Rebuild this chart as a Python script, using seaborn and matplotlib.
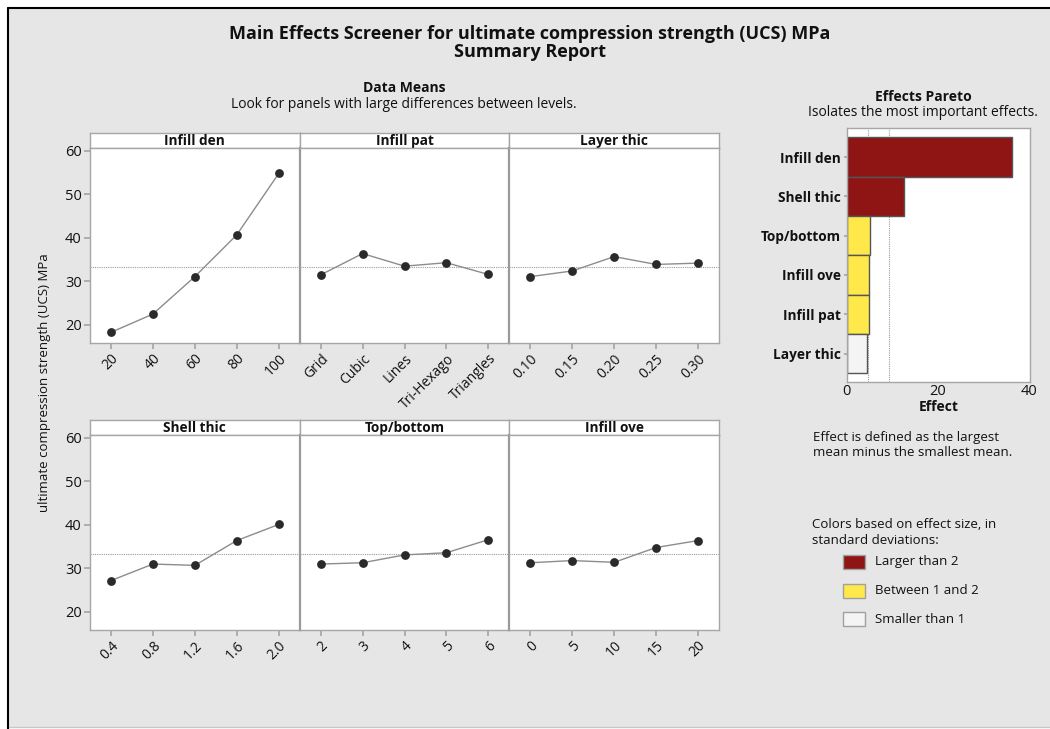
import numpy as np
import pandas as pd
import seaborn as sns
import matplotlib
matplotlib.use("Agg")
import matplotlib.pyplot as plt
from matplotlib.patches import Rectangle
from matplotlib.lines import Line2D

# ---------------- data ----------------
factors = ["Infill den", "Infill pat", "Layer thic", "Shell thic", "Top/bottom", "Infill ove"]
levels_infill_den = ["20", "40", "60", "80", "100"]
levels_infill_pat = ["Grid", "Cubic", "Lines", "Tri-Hexago", "Triangles"]
levels_layer_thic = ["0.10", "0.15", "0.20", "0.25", "0.30"]
levels_shell_thic = ["0.4", "0.8", "1.2", "1.6", "2.0"]
levels_top_bottom = ["2", "3", "4", "5", "6"]
levels_infill_ove = ["0", "5", "10", "15", "20"]

means_infill_den = [18.3, 22.5, 31.1, 40.7, 54.8]
means_infill_pat = [31.5, 36.4, 33.5, 34.3, 31.6]
means_layer_thic = [31.1, 32.4, 35.7, 33.9, 34.2]
means_shell_thic = [27.2, 31.0, 30.7, 36.4, 40.1]
means_top_bottom = [31.0, 31.3, 33.1, 33.6, 36.6]
means_infill_ove = [31.3, 31.8, 31.4, 34.8, 36.4]

grand_mean = 33.2

pareto_factors = ["Infill den", "Shell thic", "Top/bottom", "Infill ove", "Infill pat", "Layer thic"]
pareto_effects = [36.4, 12.7, 5.2, 5.0, 4.8, 4.5]
pareto_groups = ["Larger than 2", "Larger than 2", "Between 1 and 2", "Between 1 and 2",
                 "Between 1 and 2", "Smaller than 1"]
sd_lines = [4.6, 9.3]

legend_labels = ["Larger than 2", "Between 1 and 2", "Smaller than 1"]
legend_colors = ["#8f1414", "#ffe84a", "#f4f4f4"]

# ---------------- style ----------------
sns.set_theme(style="white")
plt.rcParams["font.family"] = ["Open Sans", "DejaVu Sans"]
plt.rcParams["axes.linewidth"] = 1.0

W, H = 1050, 729
fig = plt.figure(figsize=(W / 100, H / 100), dpi=100, facecolor="white")

def fx(x):
    return x / W

def fy(y):
    return 1 - y / H

def add_ax(x0, y0, x1, y1, **kw):
    return fig.add_axes([fx(x0), fy(y1), fx(x1) - fx(x0), fy(y0) - fy(y1)], **kw)

BG = "#e6e6e6"
fig.patches.append(Rectangle((fx(8), fy(727)), 1 - fx(8), fy(8) - fy(727), transform=fig.transFigure,
                             facecolor=BG, edgecolor="none", zorder=-10))
fig.lines.append(Line2D([fx(8), 1], [fy(727), fy(727)], transform=fig.transFigure, color="#c8c8c8", lw=1.0))
fig.lines.append(Line2D([fx(8), 1], [fy(8), fy(8)], transform=fig.transFigure, color="black", lw=1.5))
fig.lines.append(Line2D([fx(8), fx(8)], [0, fy(8)], transform=fig.transFigure, color="black", lw=1.5))

TXT = "#111111"
fig.text(fx(530), fy(34), "Main Effects Screener for ultimate compression strength (UCS) MPa",
         ha="center", va="center", fontsize=13.0, fontweight="bold", color=TXT)
fig.text(fx(530), fy(52), "Summary Report", ha="center", va="center",
         fontsize=13.0, fontweight="bold", color=TXT)
fig.text(fx(404), fy(88), "Data Means", ha="center", va="center", fontsize=10,
         fontweight="bold", color=TXT)
fig.text(fx(404), fy(104), "Look for panels with large differences between levels.",
         ha="center", va="center", fontsize=10, color=TXT)

fig.text(fx(45), fy(383), "ultimate compression strength (UCS) MPa", rotation=90,
         ha="center", va="center", fontsize=9.5, color=TXT)

panel_x = [90, 299.7, 509.3, 719]
rows = [
    dict(strip=(133, 148), plot=(148, 343),
         items=[("Infill den", levels_infill_den, means_infill_den),
                ("Infill pat", levels_infill_pat, means_infill_pat),
                ("Layer thic", levels_layer_thic, means_layer_thic)]),
    dict(strip=(420, 435), plot=(435, 630),
         items=[("Shell thic", levels_shell_thic, means_shell_thic),
                ("Top/bottom", levels_top_bottom, means_top_bottom),
                ("Infill ove", levels_infill_ove, means_infill_ove)]),
]

SPINE = "#a6a6a6"
SEP = "#9a9a9a"
for row in rows:
    for i, (name, levels, means) in enumerate(row["items"]):
        x0, x1 = panel_x[i], panel_x[i + 1]
        sax = add_ax(x0, row["strip"][0], x1, row["strip"][1])
        sax.set_facecolor("white")
        sax.set_xticks([]); sax.set_yticks([])
        for s in sax.spines.values():
            s.set_color(SPINE)
        sax.text(0.5, 0.45, name, ha="center", va="center", fontsize=9.8,
                 fontweight="bold", color=TXT, transform=sax.transAxes)
        ax = add_ax(x0, row["plot"][0], x1, row["plot"][1])
        ax.set_facecolor("white")
        df = pd.DataFrame({"level": levels, "mean": means})
        sns.lineplot(data=df, x="level", y="mean", sort=False, color="#8c8c8c",
                     lw=1.0, ax=ax, zorder=2)
        sns.scatterplot(data=df, x="level", y="mean", color="#2a2a2a", s=40,
                        edgecolor="#2a2a2a", linewidth=0, ax=ax, zorder=3)
        ax.axhline(grand_mean, color="#9a9a9a", lw=0.8, ls=(0, (1, 1)), zorder=1)
        ax.set_xlim(-0.5, 4.5)
        ax.set_ylim(15.85, 60.65)
        ax.set_yticks([20, 30, 40, 50, 60])
        ax.set_xlabel(""); ax.set_ylabel("")
        for s in ax.spines.values():
            s.set_color(SPINE)
        if i > 0:
            ax.spines["left"].set_color(SEP)
            ax.spines["left"].set_linewidth(1.6)
        ax.tick_params(axis="x", direction="out", length=4, color=SPINE,
                       labelsize=10, labelcolor=TXT, bottom=True, pad=2)
        for lab in ax.get_xticklabels():
            lab.set_rotation(45)
            lab.set_ha("right")
            lab.set_rotation_mode("anchor")
        if i == 0:
            ax.tick_params(axis="y", direction="out", length=4, color=SPINE,
                           labelsize=10.5, labelcolor=TXT, left=True, pad=2)
        else:
            ax.tick_params(axis="y", left=False, labelleft=False)

# ---------------- Pareto ----------------
fig.text(fx(923), fy(97), "Effects Pareto", ha="center", va="center", fontsize=10,
         fontweight="bold", color=TXT)
fig.text(fx(923), fy(112), "Isolates the most important effects.", ha="center",
         va="center", fontsize=10, color=TXT)

pax = add_ax(846.7, 128.3, 1030, 382.3)
pax.set_facecolor("white")
pdf = pd.DataFrame({"factor": pareto_factors, "effect": pareto_effects, "group": pareto_groups})
palette = dict(zip(legend_labels, legend_colors))
sns.barplot(data=pdf, x="effect", y="factor", hue="group", palette=palette,
            dodge=False, width=1.0, edgecolor="#555555", linewidth=1.0, saturation=1,
            legend=False, ax=pax, zorder=2)
for v in sd_lines:
    pax.axvline(v, color="#9a9a9a", lw=0.8, ls=(0, (1, 1)), zorder=1)
pax.set_xlim(0, 40.3)
pax.set_ylim(5.73, -0.73)
pax.set_xticks([0, 20, 40])
pax.set_xlabel("Effect", fontsize=10, fontweight="bold", color=TXT, labelpad=1)
pax.set_ylabel("")
for s in pax.spines.values():
    s.set_color(SPINE)
pax.tick_params(axis="x", labelsize=10.5, labelcolor=TXT, bottom=True, length=0, pad=1)
pax.tick_params(axis="y", labelsize=9.8, labelcolor=TXT, left=True, length=2,
                color=SPINE, pad=2)
for lab in pax.get_yticklabels():
    lab.set_fontweight("bold")

# ---------------- notes & legend ----------------
fig.text(fx(813), fy(437), "Effect is defined as the largest", ha="left", va="center",
         fontsize=9.5, color=TXT)
fig.text(fx(813), fy(453), "mean minus the smallest mean.", ha="left", va="center",
         fontsize=9.5, color=TXT)
fig.text(fx(812), fy(524), "Colors based on effect size, in", ha="left", va="center",
         fontsize=9.5, color=TXT)
fig.text(fx(812), fy(540), "standard deviations:", ha="left", va="center",
         fontsize=9.5, color=TXT)
for k, (lab, col) in enumerate(zip(legend_labels, legend_colors)):
    yc = 562 + k * 28.7
    fig.patches.append(Rectangle((fx(843), fy(yc + 7)), fx(865) - fx(843), fy(yc - 7) - fy(yc + 7),
                                 transform=fig.transFigure, facecolor=col,
                                 edgecolor="#a0a0a0", lw=1.0))
    fig.text(fx(875), fy(yc), lab, ha="left", va="center", fontsize=9.5, color=TXT)

fig.savefig("out.png", dpi=100, facecolor="white")
